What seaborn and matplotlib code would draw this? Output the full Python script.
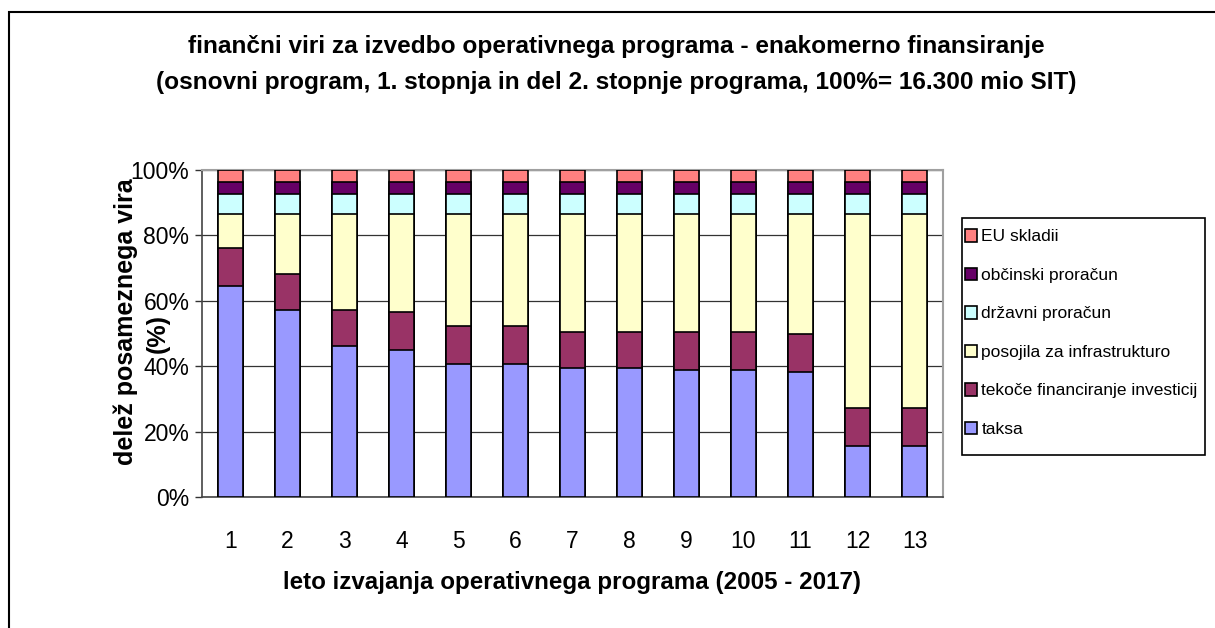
import numpy as np
import pandas as pd
import matplotlib
matplotlib.use("Agg")
import matplotlib.pyplot as plt
import seaborn as sns
from matplotlib.patches import Patch, Rectangle

# leto izvajanja operativnega programa
leto = [1, 2, 3, 4, 5, 6, 7, 8, 9, 10, 11, 12, 13]

# delezi posameznih virov (%), od spodaj navzgor
taksa = [64.5, 57.1, 46.1, 44.9, 40.6, 40.6, 39.4, 39.4, 38.8, 38.8, 38.1, 15.6, 15.6]
tekoce = [11.6, 11.1, 11.1, 11.7, 11.8, 11.8, 11.2, 11.1, 11.7, 11.7, 11.8, 11.7, 11.7]
posojila = [10.5, 18.4, 29.4, 30.0, 34.2, 34.2, 36.0, 36.1, 36.1, 36.1, 36.7, 59.3, 59.3]
drzavni = [6.0] * 13
obcinski = [3.7] * 13
eu = [3.7] * 13

serije = ["taksa", "tekoče financiranje investicij", "posojila za infrastrukturo",
          "državni proračun", "občinski proračun", "EU skladii"]
barve = ["#9999FF", "#993366", "#FFFFCC", "#CCFFFF", "#660066", "#FF8080"]

df = pd.DataFrame({
    "leto": leto,
    serije[0]: taksa,
    serije[1]: tekoce,
    serije[2]: posojila,
    serije[3]: drzavni,
    serije[4]: obcinski,
    serije[5]: eu,
})

sns.set_style("white")
plt.rcParams["font.family"] = ["Liberation Sans", "DejaVu Sans"]
plt.rcParams["text.color"] = "black"
plt.rcParams["xtick.color"] = "black"
plt.rcParams["ytick.color"] = "black"

fig = plt.figure(figsize=(12.15, 6.28), dpi=100)
ax = fig.add_axes([202 / 1215, 1 - 497 / 628, 741 / 1215, 327 / 628])

# stacked bars: draw cumulative totals from the top series down
kum = df[serije].cumsum(axis=1)
for s, c in reversed(list(zip(serije, barve))):
    sns.barplot(x=df["leto"], y=kum[s], color=c, saturation=1, width=0.44,
                edgecolor="black", linewidth=1.2, ax=ax, zorder=3)

ax.set_ylim(0, 100)
ax.set_xlim(-0.5, 12.5)
ax.set_yticks([0, 20, 40, 60, 80, 100])
ax.set_yticklabels([f"{v}%" for v in [0, 20, 40, 60, 80, 100]], fontsize=16.5)
ax.yaxis.grid(True, color="#333333", linewidth=0.9, zorder=0)
ax.set_axisbelow(True)

# ticks between categories, labels centred under the bars
ax.set_xticks(np.arange(-0.5, 13, 1))
ax.set_xticklabels([])
ax.set_xticks(np.arange(0, 13), minor=True)
ax.set_xticklabels([str(v) for v in leto], minor=True, fontsize=16.5)
ax.tick_params(axis="x", which="major", length=5, width=1, color="#333333", direction="out")
ax.tick_params(axis="x", which="minor", length=0, pad=24)
ax.tick_params(axis="y", length=5, width=1, color="#333333", direction="out", pad=4, left=True)

ax.set_xlabel("")
ax.set_ylabel("")
for side in ["left", "bottom"]:
    ax.spines[side].set_color("#444444")
    ax.spines[side].set_linewidth(1.2)
for side in ["top", "right"]:
    ax.spines[side].set_visible(True)
    ax.spines[side].set_color("#A0A0A0")
    ax.spines[side].set_linewidth(1.5)

fig.text(616 / 1215, 1 - 47 / 628,
         "finančni viri za izvedbo operativnega programa - enakomerno finansiranje",
         ha="center", va="center", fontsize=17.6, fontweight="bold")
fig.text(616 / 1215, 1 - 83 / 628,
         "(osnovni program, 1. stopnja in del 2. stopnje programa, 100%= 16.300 mio SIT)",
         ha="center", va="center", fontsize=17.6, fontweight="bold")

fig.text(572 / 1215, 1 - 582 / 628,
         "leto izvajanja operativnega programa (2005 - 2017)",
         ha="center", va="center", fontsize=17.4, fontweight="bold")
# y label in two separate lines, as in the original
fig.text(126 / 1215, 1 - 322 / 628, "delež posameznega vira",
         ha="center", va="center", rotation=90, fontsize=18, fontweight="bold")
fig.text(158 / 1215, 1 - 333 / 628, "(%)",
         ha="center", va="center", rotation=90, fontsize=18, fontweight="bold")

handles = [Patch(facecolor=c, edgecolor="black", linewidth=1.2, label=s)
           for s, c in zip(serije, barve)][::-1]
leg = fig.legend(handles=handles, loc="upper left",
                 bbox_to_anchor=(965 / 1215, 1 - 229 / 628),
                 frameon=False, fontsize=12.5,
                 handlelength=0.7, handleheight=0.75, handletextpad=0.25,
                 labelspacing=1.33, borderpad=0, borderaxespad=0)

# legend frame
fig.patches.append(Rectangle((962 / 1215, 1 - 455 / 628), 243 / 1215, 237 / 628,
                             transform=fig.transFigure, fill=False,
                             edgecolor="black", linewidth=1.2))

# outer chart border
fig.patches.append(Rectangle((9 / 1215, -0.05), 1.1, 1 - 12 / 628 + 0.05,
                             transform=fig.transFigure, fill=False,
                             edgecolor="black", linewidth=1.5, zorder=0))

fig.savefig("out.png", dpi=100)
